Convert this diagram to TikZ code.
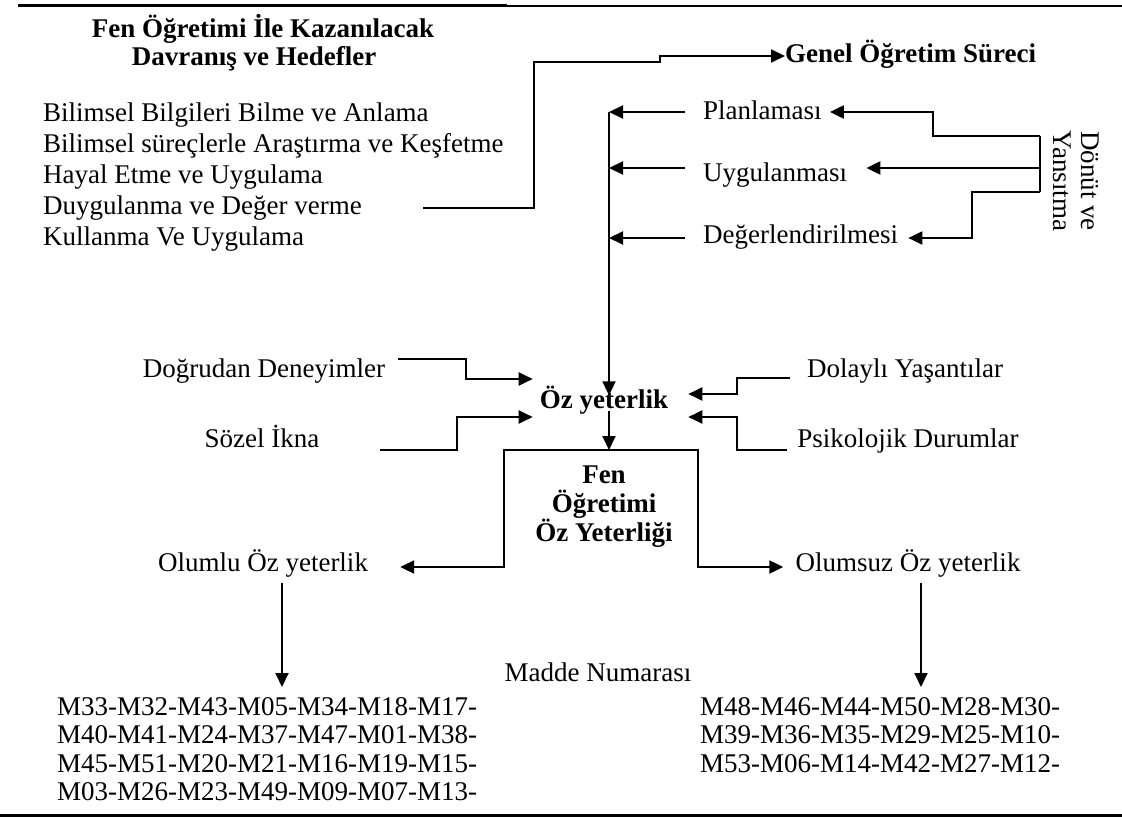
\documentclass[tikz,border=0pt]{standalone}
\usepackage{fontspec}
\setmainfont{Liberation Serif}
\usetikzlibrary{arrows.meta,positioning}

\tikzset{
  lbl/.style={inner sep=0pt, text height=0.68em, text depth=0.22em},
  head/.style={font=\fontsize{27pt}{29pt}\selectfont\bfseries},
  link/.style={line width=2pt},
  nums/.style={inner sep=0pt, anchor=north west, align=left, font=\fontsize{27pt}{28.5pt}\selectfont},
}

\begin{document}
\begin{tikzpicture}[x=1pt, y=-1pt, >={Triangle[length=14pt,width=13pt]},
  every node/.style={font=\fontsize{27pt}{29pt}\selectfont}]
\useasboundingbox (0,0) rectangle (1122,818);

% rules
\draw[line width=3pt] (18,6) -- (507,6);
\draw[line width=2.2pt] (507,6) -- (1122,6);
\draw[line width=3pt] (0,815) -- (1122,815);

% goals
\node[lbl, head] (goal1) at (263,35) {Fen Öğretimi İle Kazanılacak};
\node[lbl, head] (goal2) at (254,63) {Davranış ve Hedefler};
\node[lbl, anchor=west] (beh1) at (43,119) {Bilimsel Bilgileri Bilme ve Anlama};
\node[lbl, anchor=west] (beh2) at (43,150) {Bilimsel süreçlerle Araştırma ve Keşfetme};
\node[lbl, anchor=west] (beh3) at (43,181) {Hayal Etme ve Uygulama};
\node[lbl, anchor=west] (beh4) at (43,212) {Duygulanma ve Değer verme};
\node[lbl, anchor=west] (beh5) at (43,243) {Kullanma Ve Uygulama};
\coordinate (behout) at (423,208);

\node[lbl, head, anchor=base west] (genel) at (785,63) {Genel Öğretim Süreci};
\draw[link,->] (behout) -- (534,208) -- (534,62) -- (660,62) |- (genel.north west);

% process
\node[lbl, anchor=west] (plan) at (703,117) {Planlaması};
\node[lbl, anchor=west] (uyg) at (703,179) {Uygulanması};
\node[lbl, anchor=west] (deg) at (703,241) {Değerlendirilmesi};
\coordinate (trunk) at (609,112);
\coordinate (tu) at (609,168);
\coordinate (td) at (609,238);
\draw[link,->] ([xshift=-18pt,yshift=5pt]plan.west) -- (trunk);
\draw[link,->] ([xshift=-18pt,yshift=11pt]uyg.west) -- (tu);
\draw[link,->] ([xshift=-18pt,yshift=3pt]deg.west) -- (td);

% feedback
\coordinate (fb1) at (1040,136);
\coordinate (fb2) at (1040,192);
\draw[link] (fb1) -- (fb2);
\draw[link,->] (fb1) -- (933,136) |- ([xshift=8pt,yshift=5pt]plan.east);
\draw[link,->] (fb1 |- tu) -- ([xshift=19pt,yshift=11pt]uyg.east);
\draw[link,->] (fb2) -- (972,192) |- ([xshift=10pt,yshift=3pt]deg.east);
\node[inner sep=0pt, rotate=-90, align=center, font=\fontsize{27pt}{28pt}\selectfont] (donut) at (1076,181) {Dönüt ve\\Yansıtma};

% sources
\node[lbl, head] (oz) at (604,406) {Öz yeterlik};
\draw[link,->] (trunk) -- ([yshift=6pt]trunk |- oz.north);
\node[lbl] (dog) at (264,375) {Doğrudan Deneyimler};
\node[lbl] (soz) at (262,445) {Sözel İkna};
\node[lbl] (dol) at (905,375) {Dolaylı Yaşantılar};
\node[lbl] (psi) at (908,445) {Psikolojik Durumlar};
\draw[link,->] ([xshift=13pt,yshift=16pt]dog.east) -- (466,359) |- ([xshift=-7pt,yshift=27pt]oz.west);
\draw[link,->] ([xshift=60pt,yshift=-5pt]soz.east) -- (457,450) |- ([xshift=-7pt,yshift=-11pt]oz.west);
\draw[link,->] ([xshift=-17pt,yshift=-3pt]dol.west) -- (737,378) |- ([xshift=20pt,yshift=12pt]oz.east);
\draw[link,->] ([xshift=-10pt,yshift=-5pt]psi.west) -- (737,450) |- ([xshift=20pt,yshift=-11pt]oz.east);

% outcome
\coordinate (split) at (609,450);
\draw[link,->] (oz.south -| trunk) -- (split);
\node[inner sep=0pt, head, align=center] (fen) at (604,507) {Fen\\Öğretimi\\Öz Yeterliği};
\node[lbl] (olumlu) at (263,569) {Olumlu Öz yeterlik};
\node[lbl] (olumsuz) at (908,569) {Olumsuz Öz yeterlik};
\draw[link,->] (split) -| (504,567) -- ([xshift=32pt,yshift=2pt]olumlu.east);
\draw[link,->] (split) -| (698,567) -- ([xshift=-12pt,yshift=2pt]olumsuz.west);

% items
\node[lbl] (madde) at (598,679) {Madde Numarası};
\node[nums] (numl) at (57,697) {M33-M32-M43-M05-M34-M18-M17-\\M40-M41-M24-M37-M47-M01-M38-\\M45-M51-M20-M21-M16-M19-M15-\\M03-M26-M23-M49-M09-M07-M13-};
\node[nums] (numr) at (700,697) {M48-M46-M44-M50-M28-M30-\\M39-M36-M35-M29-M25-M10-\\M53-M06-M14-M42-M27-M12-};
\draw[link,->] ([xshift=19pt,yshift=-9pt]olumlu.south) -- ([xshift=225pt,yshift=10pt]numl.north west);
\draw[link,->] ([xshift=13pt,yshift=-9pt]olumsuz.south) -- ([xshift=221pt,yshift=10pt]numr.north west);
\end{tikzpicture}
\end{document}
